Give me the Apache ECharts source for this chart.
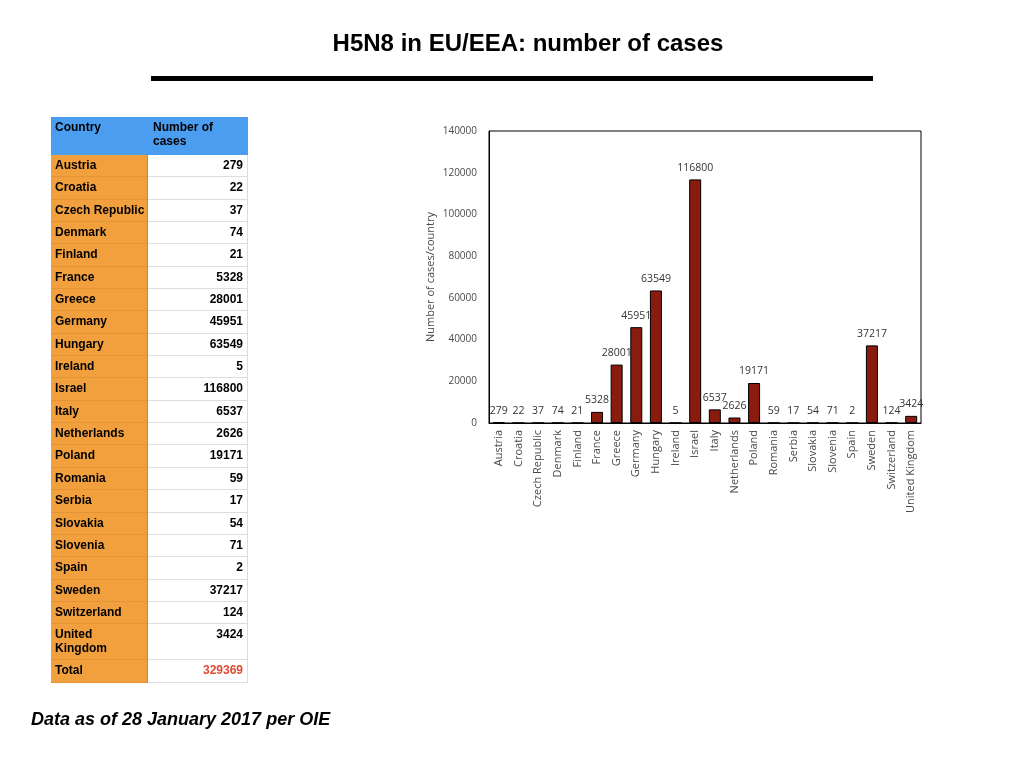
<!DOCTYPE html>
<html>
<head>
<meta charset="utf-8">
<script src="https://cdn.jsdelivr.net/npm/echarts@6/dist/echarts.min.js"></script>
<style>
html,body{margin:0;padding:0;background:#fff;width:1024px;height:768px;overflow:hidden;font-family:"Liberation Sans",Arial,sans-serif;}
#chart{position:absolute;left:0;top:0;width:1024px;height:768px;}
#title{position:absolute;left:0;width:1056px;top:29px;text-align:center;font-weight:bold;font-size:24px;color:#000;}
#rule{position:absolute;left:151px;top:76px;width:722px;height:5px;background:#000;}
#foot{position:absolute;left:31px;top:709px;font-weight:bold;font-style:italic;font-size:18px;color:#000;}
#tbl{position:absolute;left:51px;top:117px;width:197px;font-size:12px;font-weight:bold;}
.row{display:flex;}
.c1{width:97px;background:#F2A03D;border-right:1px solid #C98A35;border-bottom:1px solid #E39536;padding:3px 0 0 4px;box-sizing:border-box;line-height:14px;}
.c2{width:100px;background:#fff;border-bottom:1px solid #DDDDDD;border-right:1px solid #DDDDDD;padding:3px 4px 0 0;box-sizing:border-box;text-align:right;line-height:14px;}
.hdr .c1,.hdr .c2{background:#4B9DF0;text-align:left;border-color:#4B9DF0;padding-left:4px;}
.hdr .c2{padding-left:5px;}
</style>
</head>
<body>
<div id="chart"></div>
<div id="title">H5N8 in EU/EEA: number of cases</div>
<div id="rule"></div>
<div id="tbl"></div>
<div id="foot">Data as of 28 January 2017 per OIE</div>
<script>
var countries = ["Austria","Croatia","Czech Republic","Denmark","Finland","France","Greece","Germany","Hungary","Ireland","Israel","Italy","Netherlands","Poland","Romania","Serbia","Slovakia","Slovenia","Spain","Sweden","Switzerland","United Kingdom"];
var cases = [279,22,37,74,21,5328,28001,45951,63549,5,116800,6537,2626,19171,59,17,54,71,2,37217,124,3424];
var tableCountryLabels = ["Austria","Croatia","Czech Republic","Denmark","Finland","France","Greece","Germany","Hungary","Ireland","Israel","Italy","Netherlands","Poland","Romania","Serbia","Slovakia","Slovenia","Spain","Sweden","Switzerland","United<br>Kingdom"];
var totalCases = 329369;
var yTicks = [0,20000,40000,60000,80000,100000,120000,140000];

// Build table
var tbl = document.getElementById('tbl');
var html = '<div class="row hdr" style="height:38px"><div class="c1">Country</div><div class="c2">Number of<br>cases</div></div>';
for (var i = 0; i < countries.length; i++) {
  var h = (i === countries.length - 1) ? 36 : 22.35;
  html += '<div class="row" style="height:' + h + 'px"><div class="c1">' + tableCountryLabels[i] + '</div><div class="c2">' + cases[i] + '</div></div>';
}
html += '<div class="row" style="height:23px"><div class="c1">Total</div><div class="c2" style="color:#E04A33">' + totalCases + '</div></div>';
tbl.innerHTML = html;

var chart = echarts.init(document.getElementById('chart'));
chart.setOption({
  animation: false,
  grid: {left: 489, right: 103, top: 131, bottom: 345, show: true, borderColor: '#000', borderWidth: 1, backgroundColor: 'transparent'},
  xAxis: {
    type: 'category',
    data: countries,
    axisLine: {lineStyle: {color: '#000', width: 1}},
    axisTick: {show: false},
    axisLabel: {rotate: 90, color: '#4a4a4a', fontSize: 11, fontFamily: 'Open Sans', interval: 0, margin: 7}
  },
  yAxis: {
    type: 'value',
    min: 0, max: 140000, interval: 20000,
    name: 'Number of cases/country',
    nameLocation: 'middle',
    nameGap: 53,
    nameTextStyle: {color: '#4a4a4a', fontSize: 11, fontFamily: 'Open Sans'},
    axisLine: {show: true, lineStyle: {color: '#000'}},
    axisTick: {show: false},
    splitLine: {show: false},
    axisLabel: {color: '#4a4a4a', fontSize: 10, fontFamily: 'Open Sans', margin: 12,
      formatter: function (v) { return yTicks.indexOf(v) >= 0 ? String(v) : ''; }}
  },
  series: [{
    type: 'bar',
    data: cases,
    barWidth: 12,
    itemStyle: {color: '#8A1C0F', borderColor: '#000', borderWidth: 1},
    label: {show: true, position: 'top', distance: 6, color: '#333333', fontSize: 10.5, fontFamily: 'Open Sans'}
  }]
});
</script>
</body>
</html>
